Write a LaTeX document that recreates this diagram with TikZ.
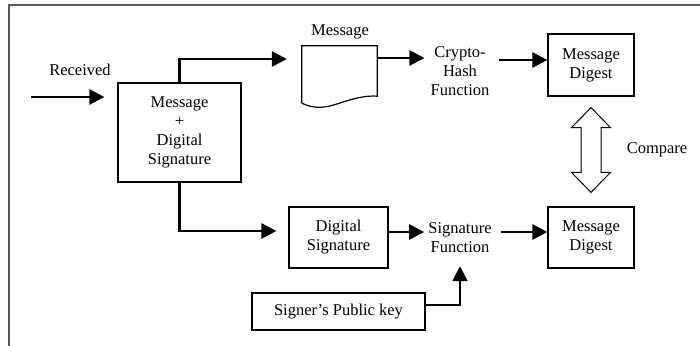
\documentclass[tikz,border=0pt]{standalone}
\usepackage{fontspec}
\setmainfont{Liberation Serif}
\usetikzlibrary{arrows.meta,calc}
\begin{document}
\begin{tikzpicture}[x=1pt,y=-1pt,
  every node/.style={font=\fontsize{16.5}{19}\selectfont},
  boxnode/.style={draw,line width=1.2pt,align=center,inner sep=0pt},
  txt/.style={align=center,inner sep=0pt},
  arr/.style={line width=2.6pt,-{Triangle[length=15pt,width=15pt]}},
  frame/.style={draw=black!65,line width=1.6pt}]
\useasboundingbox (0,0) rectangle (700,345);
\draw[frame] (9,346) -- (9,5) -- (701,5);
% nodes
\node[boxnode,minimum width=123pt,minimum height=99pt] (main) at (179.5,132.5) {Message\\+\\Digital\\Signature};
\node[txt] (recv) at (80,70) {Received};
\coordinate (rin) at (31,97);
\node[minimum width=75pt,minimum height=57pt,inner sep=0pt] (doc) at (339.5,74.5) {};
\node[txt] (msglbl) at (340,32) {Message};
\node[txt] (hash) at (460,71) {Crypto-\\Hash\\Function};
\node[boxnode,minimum width=86pt,minimum height=62pt] (md1) at (591,65) {Message\\Digest};
\node[boxnode,minimum width=86pt,minimum height=61pt] (md2) at (591,237.5) {Message\\Digest};
\node[txt] (cmp) at (657,150) {Compare};
\node[boxnode,minimum width=99pt,minimum height=61pt] (ds) at (338.5,237.5) {Digital\\Signature};
\node[txt] (sf) at (460,238) {Signature\\Function};
\node[boxnode,minimum width=173pt,minimum height=37pt] (pk) at (338.5,311.5) {Signer's Public key};
% document shape
\draw[line width=1.2pt] (doc.south west) -- (doc.north west) -- (doc.north east) -- ($(doc.south east)+(0,-7)$)
  .. controls (360,95) and (345,102) .. (330,106)
  .. controls (320,108) and (312,108) .. (doc.south west);
% connectors
\draw[arr,shorten >=13pt] (rin) -- (rin -| main.west);
\draw[arr,shorten >=15pt] (main.north) |- (doc.west |- 0,59);
\draw[arr,shorten >=6pt] (doc.east |- 0,58) -- (hash.west |- 0,58);
\draw[arr,shorten <=9pt] (hash.east |- 0,60) -- (md1.west |- 0,60);
\draw[arr,shorten >=12pt] (main.south) |- (ds.west |- 0,231);
\draw[arr,shorten >=4pt] (ds.east |- 0,232) -- (sf.west |- 0,232);
\draw[arr,shorten <=9pt] (sf.east |- 0,232) -- (md2.west |- 0,232);
\draw[arr,shorten >=13pt] (pk.east |- 0,305) -| (sf.south);
% hollow double arrow
\coordinate (ct) at ($(md1.south)+(0,11)$);
\coordinate (cb) at ($(md2.north)+(0,-14)$);
\draw[line width=1pt] (ct) -- ++(19.5,20) -- ++(-9.5,0) -- ($(cb)+(10,-20)$) -- ++(9.5,0) -- (cb)
  -- ++(-19.5,-20) -- ++(9.5,0) -- ($(ct)+(-10,20)$) -- ++(-9.5,0) -- cycle;
\end{tikzpicture}
\end{document}
